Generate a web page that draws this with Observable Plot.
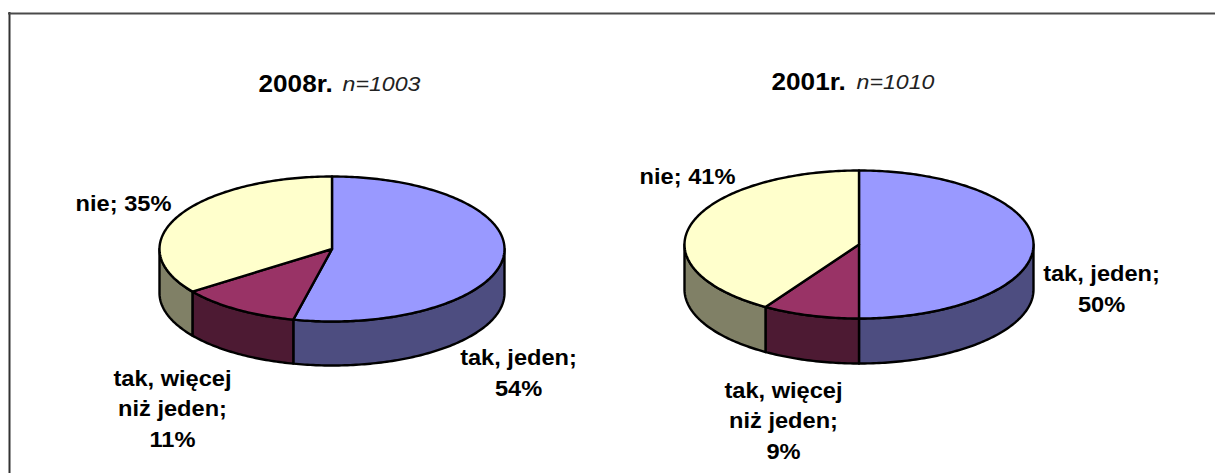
<!DOCTYPE html>
<html><head><meta charset="utf-8">
<script src="https://cdn.jsdelivr.net/npm/d3@7"></script>
<script src="https://cdn.jsdelivr.net/npm/@observablehq/plot@0.6"></script>
<style>html,body{margin:0;padding:0;background:#fff;overflow:hidden}svg{display:block}</style>
</head><body><div id="chart"></div>
<script>
const categories = ["tak, jeden", "tak, więcej niż jeden", "nie"];
const shares2008 = [53.6, 11.4, 35];
const shares2001 = [50, 9, 41];
const titles = ["2008r.", "2001r."];
const sampleNotes = ["n=1003", "n=1010"];
const labelLines = {
  "tak, jeden": ["tak, jeden;"],
  "tak, więcej niż jeden": ["tak, więcej", "niż jeden;"],
  "nie": ["nie;"]
};
const topColors = ["#9999FF", "#993366", "#FFFFCC"];
const sideColors = ["#4D4D80", "#4D1A33", "#808066"];

const pies = [
  {id: 0, shares: shares2008, cx: 331.5, cy: 248.5, rx: 172.5, ry: 72.5, depth: 44,
   titleX: 258, noteX: 342, titleY: 84, labels: [[518, 370], [172, 406], [123, 201]]},
  {id: 1, shares: shares2001, cx: 858.5, cy: 244, rx: 174.5, ry: 74, depth: 45,
   titleX: 771, noteX: 856, titleY: 82, labels: [[1101, 286], [783, 418], [687, 174]]}
];

const pts = (p, a0, a1, dy = 0) => {
  const n = Math.max(2, Math.ceil((a1 - a0) * 60));
  return d3.range(n + 1).map(i => {
    const a = a0 + (a1 - a0) * i / n;
    return {x: p.cx + p.rx * Math.sin(a), y: p.cy - p.ry * Math.cos(a) + dy};
  });
};

const tops = [], sides = [], texts = [], titleRows = [], noteRows = [];
for (const p of pies) {
  const total = d3.sum(p.shares);
  let acc = 0;
  p.shares.forEach((v, i) => {
    const a0 = acc / total * 2 * Math.PI;
    acc += v;
    const a1 = acc / total * 2 * Math.PI;
    const ring = [{x: p.cx, y: p.cy}, ...pts(p, a0, a1), {x: p.cx, y: p.cy}];
    ring.forEach(r => tops.push({...r, key: `top-${p.id}-${i}`, color: "t" + i}));
    const s0 = Math.max(a0, Math.PI / 2), s1 = Math.min(a1, 3 * Math.PI / 2);
    if (s1 > s0) {
      const front = pts(p, s0, s1), back = pts(p, s0, s1, p.depth).reverse();
      [...front, ...back, front[0]].forEach(r => sides.push({...r, key: `side-${p.id}-${i}`, color: "s" + i}));
    }
    const lines = [...labelLines[categories[i]]];
    const pct = Math.round(v) + "%";
    if (categories[i] === "nie") lines[0] += " " + pct; else lines.push(pct);
    texts.push({x: p.labels[i][0], y: p.labels[i][1], text: lines.join("\n")});
  });
  titleRows.push({x: p.titleX, y: p.titleY, text: titles[p.id]});
  noteRows.push({x: p.noteX, y: p.titleY, text: sampleNotes[p.id]});
}

const W = 1215, H = 473;
const font = "Liberation Sans, Arial, sans-serif";
const pieLine = (data) => Plot.line(data, {x: "x", y: "y", z: "key", fill: "color", stroke: "#000", strokeWidth: 2.4, strokeLinejoin: "round", curve: "linear"});

const chart = Plot.plot({
  width: W, height: H, margin: 0,
  x: {domain: [0, W], range: [0, W], axis: null},
  y: {domain: [0, H], range: [0, H], axis: null},
  color: {domain: ["t0","t1","t2","s0","s1","s2"], range: [...topColors, ...sideColors]},
  style: {background: "#fff", fontFamily: font},
  marks: [
    Plot.ruleX([9], {y1: 12, y2: H, stroke: "#333", strokeWidth: 2}),
    Plot.ruleY([13], {x1: 8, x2: W, stroke: "#4a4a4a", strokeWidth: 2}),
    pieLine(sides),
    pieLine(tops),
    Plot.text(texts, {x: "x", y: "y", text: "text", fontSize: 22.5, fontWeight: "bold", fill: "#000", lineHeight: 1.36, lineAnchor: "middle", textAnchor: "middle", className: "pie-label"}),
    Plot.text(titleRows, {x: "x", y: "y", text: "text", fontSize: 24, fontWeight: "bold", fill: "#000", textAnchor: "start", className: "pie-title"}),
    Plot.text(noteRows, {x: "x", y: "y", text: "text", fontSize: 20.5, fontStyle: "italic", fill: "#222", textAnchor: "start", className: "pie-note"})
  ]
});
const widen = (sel, k) => chart.querySelectorAll(sel + " text").forEach(t => t.setAttribute("transform", (t.getAttribute("transform") || "") + ` scale(${k},1)`));
widen(".pie-label", 1.05);
widen(".pie-title", 1.09);
widen(".pie-note", 1.13);
document.getElementById("chart").append(chart);
</script></body></html>
